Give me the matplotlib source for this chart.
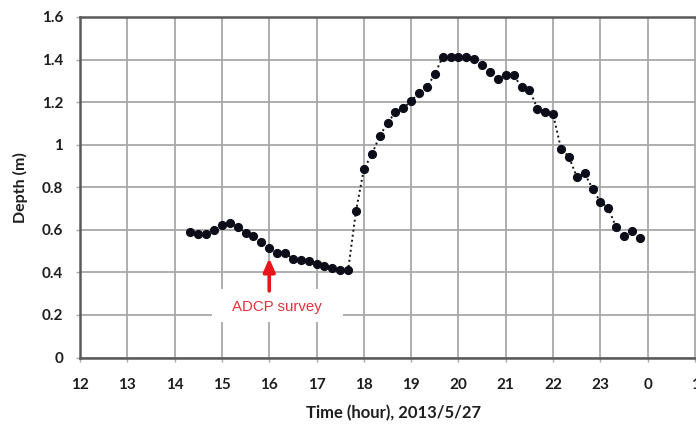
import numpy as np
import matplotlib
matplotlib.use("Agg")
import matplotlib.pyplot as plt
from matplotlib.patches import Rectangle

# %% data : water depth every 10 minutes, starting 14:20
t_start = 14 + 20 / 60.0
t_step = 1 / 6.0
depth = [0.590, 0.582, 0.582, 0.601, 0.624, 0.634, 0.613, 0.585, 0.569, 0.543,
         0.516, 0.493, 0.493, 0.463, 0.460, 0.452, 0.441, 0.428, 0.419, 0.409,
         0.409, 0.688, 0.884, 0.954, 1.040, 1.102, 1.153, 1.173, 1.204, 1.245,
         1.271, 1.331, 1.412, 1.412, 1.412, 1.412, 1.404, 1.373, 1.342, 1.311,
         1.326, 1.326, 1.271, 1.259, 1.170, 1.154, 1.143, 0.982, 0.943, 0.849,
         0.865, 0.794, 0.731, 0.703, 0.611, 0.570, 0.594, 0.560]
time_h = [t_start + i * t_step for i in range(len(depth))]

xtick_pos = list(range(12, 26))
xtick_labels = ["12", "13", "14", "15", "16", "17", "18", "19", "20", "21",
                "22", "23", "0", "1"]
ytick_pos = [0, 0.2, 0.4, 0.6, 0.8, 1.0, 1.2, 1.4, 1.6]
ytick_labels = ["0", "0.2", "0.4", "0.6", "0.8", "1", "1.2", "1.4", "1.6"]

survey_time = 16.0
survey_label = "ADCP survey"

# %% figure
W, H = 696, 425
fig = plt.figure(figsize=(W / 100, H / 100), dpi=100)
x0, x1 = 80, 704      # pixel positions of x = 12 and x = 25.2
y0, y1 = 357.5, 17    # pixel positions of y = 0 and y = 1.6
ax = fig.add_axes([x0 / W, 1 - y0 / H, (x1 - x0) / W, (y0 - y1) / H])
ax.set_xlim(12, 25.19)
ax.set_ylim(0, 1.6)

ax.set_xticks(xtick_pos)
ax.set_xticklabels(xtick_labels)
ax.set_yticks(ytick_pos)
ax.set_yticklabels(ytick_labels)
for lab in ax.get_xticklabels() + ax.get_yticklabels():
    lab.set_fontfamily("Lato")
    lab.set_fontweight("bold")
    lab.set_fontsize(11)
    lab.set_color("#1e1e1e")
ax.tick_params(axis="x", length=3, width=1, color="#aaaaaa", pad=12)
ax.tick_params(axis="y", length=3, width=1, color="#aaaaaa", pad=9)

ax.grid(True, color="#a8a8a8", lw=1.3, zorder=0)
ax.set_axisbelow(True)
for s in ["left", "bottom", "top"]:
    ax.spines[s].set_color("#5a5a5a")
    ax.spines[s].set_linewidth(1.8)
ax.spines["right"].set_visible(False)

# white box behind the label (covers the grid)
ax.add_patch(Rectangle((14.78, 0.167), 2.78, 0.155, facecolor="white",
                       edgecolor="none", zorder=1.5))

ax.plot(time_h, depth, color="#111111", lw=1.4, ls=(0, (1, 1.6)),
        marker="o", ms=5.6, mfc="#0d0d1a", mec="#0d0d1a", zorder=3)

ax.annotate("", xy=(survey_time, 0.48), xytext=(survey_time, 0.30),
            arrowprops=dict(arrowstyle="-|>,head_width=0.35,head_length=0.8",
                            color="#e8161c", lw=2.6), zorder=4)
ax.text(16.17, 0.238, survey_label, color="#e8303a", fontsize=10.8,
        family="Liberation Sans", ha="center", va="center", zorder=4)

ax.set_xlabel("Time (hour), 2013/5/27", fontfamily="Lato", fontweight="bold",
              fontsize=12, color="#1e1e1e", va="center")
ax.xaxis.set_label_coords((394 - x0) / (x1 - x0), (y0 - 413) / (y0 - y1))
ax.set_ylabel("Depth (m)", fontfamily="Lato", fontweight="bold",
              fontsize=11.5, color="#1e1e1e", va="center")
ax.yaxis.set_label_coords((20 - x0) / (x1 - x0), 0.5)

fig.savefig("out.png", dpi=100)
